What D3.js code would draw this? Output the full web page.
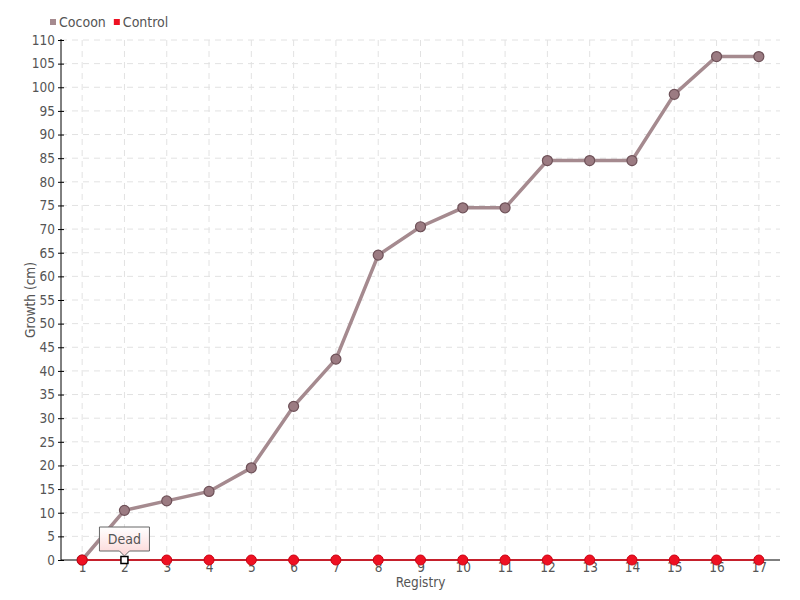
<!DOCTYPE html>
<html><head><meta charset="utf-8">
<script src="https://cdn.jsdelivr.net/npm/d3@7"></script>
<style>
body{margin:0;background:#fff;}
text{font-family:"Liberation Sans Narrow","DejaVu Sans Condensed","Liberation Sans",sans-serif;}
</style></head>
<body><svg id="c" width="800" height="600"></svg>
<script>
const registry = [1,2,3,4,5,6,7,8,9,10,11,12,13,14,15,16,17];
const cocoon = [0,10.5,12.5,14.5,19.5,32.5,42.5,64.5,70.5,74.5,74.5,84.5,84.5,84.5,98.5,106.5,106.5];
const control = [0,0,0,0,0,0,0,0,0,0,0,0,0,0,0,0,0];
const yTicks = d3.range(0,111,5);
const seriesNames = ["Cocoon","Control"];
const annotation = {index:1, label:"Dead"};

const svg = d3.select("#c");
const m = {l:61, r:20, t:40, b:40};
const W = 800, H = 600;
const x = d3.scalePoint().domain(registry).range([m.l, W-m.r]).padding(0.5);
const y = d3.scaleLinear().domain([0,110]).range([H-m.b, m.t]);

// grid
const g = svg.append("g");
g.selectAll(".hg").data(yTicks.filter(d=>d>0)).join("line")
 .attr("x1",m.l).attr("x2",W-m.r).attr("y1",d=>y(d)).attr("y2",d=>y(d))
 .attr("stroke","#e2e2e2").attr("stroke-dasharray","6,5");
g.selectAll(".vg").data(registry).join("line")
 .attr("x1",d=>x(d)).attr("x2",d=>x(d)).attr("y1",m.t).attr("y2",H-m.b)
 .attr("stroke","#e2e2e2").attr("stroke-dasharray","6,5");

// axes
const ya = svg.append("g").attr("transform",`translate(${m.l},0)`)
 .call(d3.axisLeft(y).tickValues(yTicks).tickSize(3).tickPadding(3));
ya.selectAll(".tick line").attr("x2",3).attr("x1",-3).attr("stroke","#000");
ya.select(".domain").attr("d",`M0,${m.t-1}V${H-m.b}`).attr("stroke","#000");
ya.selectAll("text").attr("font-size",13.5).attr("fill","#555");

const xa = svg.append("g").attr("transform",`translate(0,${H-m.b})`)
 .call(d3.axisBottom(x).tickSize(0).tickPadding(2));
xa.select(".domain").attr("d",`M${m.l},0H${W-m.r}`).attr("stroke","#000");
xa.selectAll("text").attr("font-size",13.5).attr("fill","#555");

svg.append("text").attr("x",x(9)).attr("y",587).attr("text-anchor","middle")
 .attr("font-size",13.5).attr("fill","#555").text("Registry");
svg.append("text").attr("transform",`translate(35,${(m.t+H-m.b)/2}) rotate(-90)`)
 .attr("text-anchor","middle").attr("font-size",13.5).attr("fill","#555").text("Growth (cm)");

// cocoon series
const line = d3.line().x((d,i)=>x(registry[i])).y(d=>y(d));
svg.append("path").datum(cocoon).attr("d",line).attr("fill","none")
 .attr("stroke","#a58a8f").attr("stroke-width",3.5);
svg.selectAll(".cp").data(cocoon).join("circle")
 .attr("cx",(d,i)=>x(registry[i])).attr("cy",d=>y(d)).attr("r",5)
 .attr("fill","#9b7b82").attr("stroke","#6e5158").attr("stroke-width",1.2);

// control series
svg.append("path").datum(control).attr("d",line).attr("fill","none")
 .attr("stroke","#dd0011").attr("stroke-width",1.5);
svg.selectAll(".kp").data(registry.map((r,i)=>({r,v:control[i],i})).filter(d=>d.i!==annotation.index)).join("circle")
 .attr("cx",d=>x(d.r)).attr("cy",d=>y(d.v)).attr("r",5)
 .attr("fill","#ee1122").attr("stroke","#cc0011").attr("stroke-width",1);

// annotation marker
const ax = x(registry[annotation.index]), ay = y(control[annotation.index]);
svg.append("rect").attr("x",ax-3.5).attr("y",ay-3.5).attr("width",7).attr("height",7)
 .attr("fill","#fff").attr("stroke","#000").attr("stroke-width",1.5);

// tooltip
const defs = svg.append("defs");
const gr = defs.append("linearGradient").attr("id","tg").attr("x1",0).attr("y1",0).attr("x2",0).attr("y2",1);
gr.append("stop").attr("offset","0%").attr("stop-color","#ffffff");
gr.append("stop").attr("offset","100%").attr("stop-color","#fcd6d6");
const bw=50,bh=24, bx=ax-bw/2, by=ay-33;
svg.append("path")
 .attr("d",`M${bx},${by}H${bx+bw}V${by+bh}H${ax+5}L${ax},${by+bh+5}L${ax-5},${by+bh}H${bx}Z`)
 .attr("fill","url(#tg)").attr("stroke","#666").attr("stroke-width",1);
svg.append("text").attr("x",ax).attr("y",by+17).attr("text-anchor","middle")
 .attr("font-size",14).attr("fill","#555").text(annotation.label);

// legend
const legColors = ["#a58a8f","#ee1122"];
const lg = svg.append("g");
let lx = 50;
seriesNames.forEach((n,i)=>{
  lg.append("rect").attr("x",lx).attr("y",19).attr("width",6).attr("height",6).attr("fill",legColors[i]);
  const t = lg.append("text").attr("x",lx+9).attr("y",27).attr("font-size",14).attr("fill","#555").text(n);
  lx += 9 + t.node().getComputedTextLength() + 8;
});
</script></body></html>
